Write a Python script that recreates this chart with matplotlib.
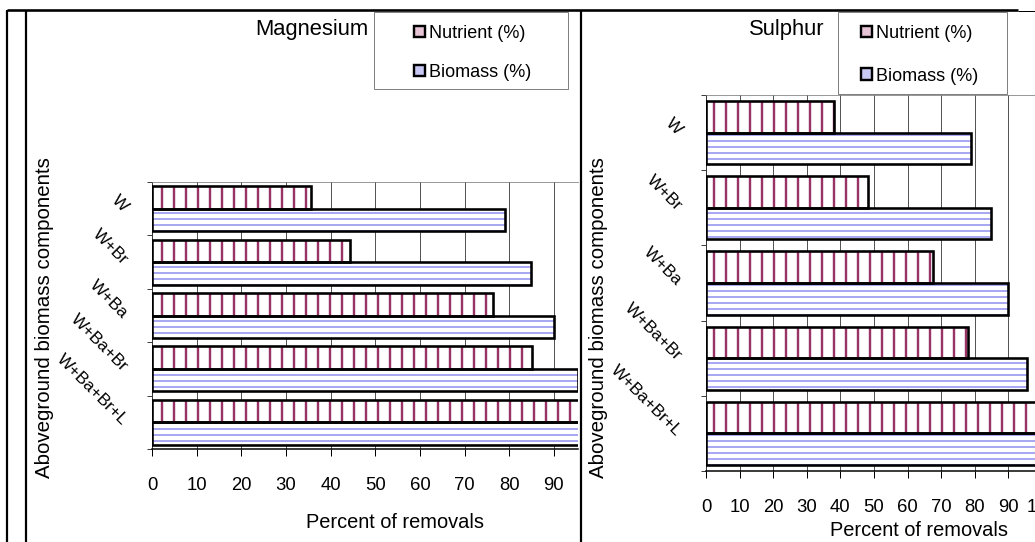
''' Magnesium / Sulphur removals by aboveground biomass components '''

import matplotlib
matplotlib.use('Agg')
from matplotlib import pyplot as plt
from matplotlib.lines import Line2D
from matplotlib.patches import Rectangle, Patch

plt.rcParams['font.family'] = ['Liberation Sans', 'DejaVu Sans']

# data
components = ['W', 'W+Br', 'W+Ba', 'W+Ba+Br', 'W+Ba+Br+L']
series = ['Nutrient (%)', 'Biomass (%)']
mg_nutrient = [35.6, 44.3, 76.3, 85.0, 100]
mg_biomass = [79.0, 84.8, 90.0, 95.5, 100]
s_nutrient = [38.0, 48.1, 67.7, 78.0, 100]
s_biomass = [79.0, 84.8, 90.0, 95.5, 100]
xticks = [0, 10, 20, 30, 40, 50, 60, 70, 80, 90, 100]

W, H = 1035, 542
DPI = 72
NUT_COL = '#993366'
BIO_COL = '#a0a0f0'
GRID_COL = '#555555'

fig = plt.figure(figsize=(W / DPI, H / DPI), dpi=DPI)


def fx(x):
	return x / W


def fy(y):
	return 1 - y / H


def line(x0, y0, x1, y1, lw, color='black'):
	fig.add_artist(Line2D([fx(x0), fx(x1)], [fy(y0), fy(y1)], lw=lw,
						  color=color, transform=fig.transFigure,
						  solid_capstyle='butt'))


def panel(rect, nutrient, biomass, xmax, title, title_x, leg_box, leg_at,
		  leg_space, xlab_at, ylab_x):

	left, top, right, bottom = rect
	ax = fig.add_axes([fx(left), fy(bottom), (right - left) / W, (bottom - top) / H])
	ys = list(range(len(components)))
	hgt = 0.42
	y_nut = [y - hgt / 2 for y in ys]
	y_bio = [y + hgt / 2 for y in ys]

	# hatched fill first, then black outline on top
	with plt.rc_context({'hatch.linewidth': 2.4}):
		ax.barh(y_nut, nutrient, height=hgt, color='white', edgecolor=NUT_COL,
				hatch='|', linewidth=0, zorder=2)
	with plt.rc_context({'hatch.linewidth': 1.8}):
		ax.barh(y_bio, biomass, height=hgt, color='white', edgecolor=BIO_COL,
				hatch='--', linewidth=0, zorder=2)
	ax.barh(y_nut, nutrient, height=hgt, fill=False, edgecolor='black', linewidth=2.6, zorder=3)
	ax.barh(y_bio, biomass, height=hgt, fill=False, edgecolor='black', linewidth=2.6, zorder=3)

	ax.set_xlim(0, xmax)
	ax.set_ylim(len(components) - 0.5, -0.5)
	ax.set_xticks([t for t in xticks if t <= xmax])
	ax.tick_params(axis='x', length=7, width=1, pad=21, labelsize=18.5, direction='out')
	ax.xaxis.grid(True, color=GRID_COL, lw=1)
	ax.set_axisbelow(True)

	ax.set_yticks([y - 0.5 for y in ys] + [len(ys) - 0.5])
	ax.set_yticklabels([])
	ax.set_yticks(ys, components, minor=True)
	ax.tick_params(axis='y', which='major', length=5, width=1, color='#404040')
	ax.tick_params(axis='y', which='minor', length=0, pad=27, labelsize=17)
	for lab in ax.get_yticklabels(minor=True):
		lab.set_rotation(-45)
		lab.set_rotation_mode('anchor')
		lab.set_ha('right')
		lab.set_va('center')

	ax.spines['right'].set_visible(False)
	ax.spines['top'].set_color('#808080')
	ax.spines['left'].set_color('#303030')
	ax.spines['bottom'].set_linewidth(1.5)

	# title, axis titles
	fig.text(fx(title_x), fy(35), title, ha='center', va='baseline', fontsize=22)
	fig.text(fx(xlab_at[0]), fy(xlab_at[1]), 'Percent of removals', ha='center',
			 va='center', fontsize=20)
	fig.text(fx(ylab_x), fy(318), 'Aboveground biomass components', ha='center',
			 va='center', rotation=90, fontsize=20.5)

	# legend
	bx0, by0, bx1, by1 = leg_box
	fig.add_artist(Rectangle((fx(bx0), fy(by1)), (bx1 - bx0) / W, (by1 - by0) / H,
							 transform=fig.transFigure, facecolor='white',
							 edgecolor='#808080', lw=1, zorder=5))
	handles = [Patch(facecolor='#e6c4d6', edgecolor='black', lw=2.4),
			   Patch(facecolor='#c8c8f4', edgecolor='black', lw=2.4)]
	leg = fig.legend(handles, series, loc='upper left', bbox_to_anchor=(fx(leg_at[0]), fy(leg_at[1])),
					 frameon=False, borderaxespad=0, borderpad=0, handlelength=0.62,
					 handleheight=0.62, handletextpad=0.2, labelspacing=leg_space, fontsize=18)
	leg.set_zorder(6)
	return ax


panel((152, 182, 578, 449), mg_nutrient, mg_biomass, 95.4, 'Magnesium', 312,
	  (374, 12, 568, 89), (414, 25), 1.22, (395, 522), 45)

panel((706, 95, 1042, 471), s_nutrient, s_biomass, 100, 'Sulphur', 787,
	  (838, 12, 1007, 94), (861, 25), 1.42, (919, 530), 598)

# frame lines of the pasted charts
line(7, 10, 1018, 10, 2.6)
line(1018, 11, 1035, 11, 1)
line(7, 10, 7, 542, 2.2)
line(25.5, 10, 25.5, 542, 2.2)
line(581, 10, 581, 542, 2.2)

plt.savefig('out.png', dpi=DPI)
